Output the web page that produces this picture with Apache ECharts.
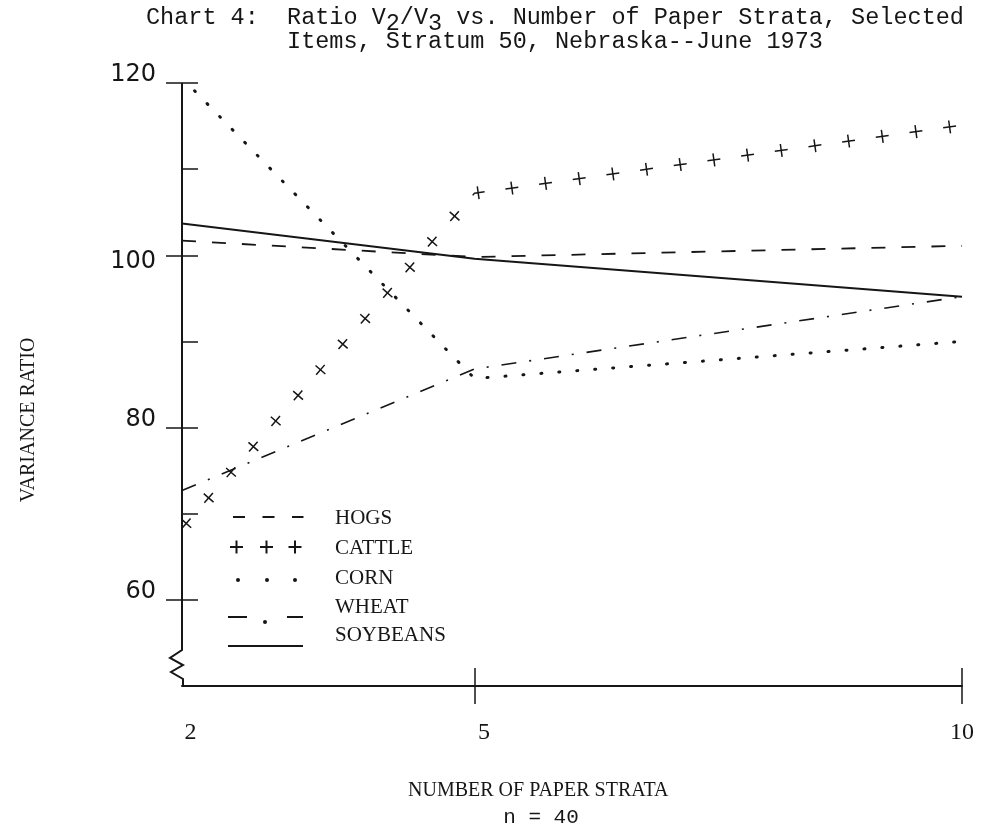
<!DOCTYPE html>
<html>
<head>
<meta charset="utf-8">
<title>Chart 4</title>
<script src="https://cdn.jsdelivr.net/npm/echarts@6/dist/echarts.min.js"></script>
<style>
html, body { margin: 0; padding: 0; background: #fff; }
#main { width: 987px; height: 837px; }
</style>
</head>
<body>
<div id="main"></div>
<script>
// values
var strata = [2, 5, 10];
var hogs = [101.7, 99.8, 101.1];
var cattle = [68.3, 107.2, 115.1];
var corn = [120.6, 85.7, 90.0];
var wheat = [72.7, 86.8, 95.2];
var soybeans = [103.7, 99.6, 95.2];

var xTicks = [5, 10];
var xLabels = [2, 5, 10];
var yLabels = [60, 80, 100, 120];
var yTicks = [60, 70, 80, 90, 100, 110, 120];
var legendNames = ['HOGS', 'CATTLE', 'CORN', 'WHEAT', 'SOYBEANS'];

var ink = '#161616';
var dom = document.getElementById('main');
var myChart = echarts.init(dom);

function pairs(ys) {
  return strata.map(function (x, i) { return [x, ys[i]]; });
}

function lineSeries(name, ys, style) {
  return {
    name: name,
    type: 'line',
    data: pairs(ys),
    symbol: 'none',
    silent: true,
    lineStyle: Object.assign({ color: ink, width: 1.6 }, style)
  };
}

var titleFont = { fontFamily: 'Liberation Mono', fontSize: 23.5, color: ink };

var option = {
  animation: false,
  backgroundColor: '#fff',
  title: {
    left: 146,
    top: 6,
    padding: 0,
    text: '{t|Chart 4:  Ratio V}{sub|2}{t|/V}{sub|3}{t| vs. Number of Paper Strata, Selected}\n{t|          Items, Stratum 50, Nebraska--June 1973}',
    textStyle: {
      fontFamily: 'Liberation Mono',
      fontSize: 23.5,
      fontWeight: 'normal',
      lineHeight: 24,
      color: ink,
      rich: {
        t: Object.assign({ lineHeight: 24, verticalAlign: 'top' }, titleFont),
        sub: Object.assign({ lineHeight: 24, verticalAlign: 'top', padding: [6, 0, 0, 0] }, titleFont)
      }
    }
  },
  grid: { left: 182, right: 25, top: 83, bottom: 151, outerBoundsMode: 'none' },
  xAxis: [
    {
      type: 'value', min: 2, max: 10,
      axisLine: { show: true, lineStyle: { color: ink, width: 2 } },
      axisTick: { show: true, inside: true, length: 18, customValues: xTicks, lineStyle: { color: ink, width: 1.5 } },
      axisLabel: {
        customValues: xLabels,
        margin: 35,
        fontFamily: 'Liberation Serif',
        fontSize: 24,
        lineHeight: 24,
        color: ink,
        formatter: function (v) {
          if (v === 2) return '{a|2}';
          if (v === 5) return '{b|5}';
          return '{c|' + v + '}';
        },
        rich: {
          a: { fontFamily: 'Liberation Serif', fontSize: 24, color: ink, padding: [0, 0, 0, 17] },
          b: { fontFamily: 'Liberation Serif', fontSize: 24, color: ink, padding: [0, 0, 0, 19] },
          c: { fontFamily: 'Liberation Serif', fontSize: 24, color: ink }
        }
      },
      splitLine: { show: false }
    },
    {
      type: 'value', min: 2, max: 10, position: 'bottom',
      axisLine: { show: false },
      axisTick: { show: true, inside: false, length: 18, customValues: xTicks, lineStyle: { color: ink, width: 1.5 } },
      axisLabel: { show: false },
      splitLine: { show: false }
    }
  ],
  yAxis: [
    {
      type: 'value', min: 50, max: 120,
      axisLine: { show: false },
      axisTick: { show: true, inside: true, length: 16, customValues: yTicks, lineStyle: { color: ink, width: 1.5 } },
      axisLabel: {
        customValues: yLabels,
        margin: 26,
        fontFamily: 'DejaVu Sans',
        fontSize: 24,
        color: ink,
        formatter: function (v) {
          return v === 100 ? '{dn|100}' : '{up|' + v + '}';
        },
        rich: {
          up: { fontFamily: 'DejaVu Sans', fontSize: 24, color: ink, padding: [0, 0, 16, 0] },
          dn: { fontFamily: 'DejaVu Sans', fontSize: 24, color: ink, padding: [12, 0, 0, 0] }
        }
      },
      splitLine: { show: false }
    },
    {
      type: 'value', min: 50, max: 120, position: 'left',
      axisLine: { show: false },
      axisTick: { show: true, inside: false, length: 16, customValues: yLabels, lineStyle: { color: ink, width: 1.5 } },
      axisLabel: { show: false },
      splitLine: { show: false }
    }
  ],
  series: [
    lineSeries('SOYBEANS', soybeans, { width: 2 }),
    lineSeries('HOGS', hogs, { type: [14, 16], width: 1.8 }),
    lineSeries('CORN', corn, { type: [1, 17], cap: 'round', width: 3 }),
    lineSeries('WHEAT', wheat, { type: [15, 13, 2, 13], width: 1.6 }),
    // cattle: short dash along the line plus a crossing bar -> "+ + +"
    lineSeries('CATTLE', cattle, { type: [13, 21], width: 1.5 }),
    lineSeries('CATTLE', cattle, { type: [1.5, 32.5], dashOffset: 28.25, width: 13 })
  ]
};

myChart.setOption(option);

// y axis line with the break near the bottom
var pTop = myChart.convertToPixel({ gridIndex: 0 }, [2, 120]);
var pBot = myChart.convertToPixel({ gridIndex: 0 }, [2, 50]);
var bx = pBot[0], by = pBot[1];

function seg(x1, y1, x2, y2, w, dash) {
  return {
    type: 'line', silent: true,
    shape: { x1: x1, y1: y1, x2: x2, y2: y2 },
    style: { stroke: ink, lineWidth: w || 2, lineDash: dash || null }
  };
}
function dot(cx, cy) {
  return { type: 'circle', silent: true, shape: { cx: cx, cy: cy, r: 2 }, style: { fill: ink } };
}
function label(text, x, y, font, align, rot) {
  return {
    type: 'text', silent: true, x: x, y: y, rotation: rot || 0,
    style: {
      text: text, font: font, fill: ink,
      align: align || 'left', verticalAlign: 'middle',
      textAlign: align || 'left', textVerticalAlign: 'middle'
    }
  };
}

var g = [];
g.push({
  type: 'polyline', silent: true,
  shape: { points: [[bx, pTop[1]], [bx, by - 36], [bx - 12, by - 28], [bx + 1, by - 21], [bx - 11, by - 14], [bx + 1, by - 7], [bx + 1, by]] },
  style: { stroke: ink, lineWidth: 2, fill: null }
});

// legend samples
var legY = [518, 548, 578, 607, 635];
g.push(seg(233, 517, 303.5, 517, 2, [12, 17.5]));
[236.5, 266.5, 295].forEach(function (cx) {
  g.push(seg(cx - 6.5, 547, cx + 6.5, 547, 2));
  g.push(seg(cx, 540.5, cx, 553.5, 2));
});
[238, 267, 295].forEach(function (cx) { g.push(dot(cx, 580)); });
g.push(seg(228, 617, 247, 617, 2));
g.push(dot(265, 622));
g.push(seg(287, 617, 303, 617, 2));
g.push(seg(228, 646, 303, 646, 2));
legendNames.forEach(function (n, i) {
  g.push(label(n, 335, legY[i], '21px "Liberation Serif"'));
});

// axis titles
g.push(label('NUMBER OF PAPER STRATA', 408, 791, '20px "Liberation Serif"'));
g.push(label('n = 40', 541, 817, '21px "Liberation Mono"', 'center'));
g.push(label('VARIANCE RATIO', 29, 420, '20px "Liberation Serif"', 'center', Math.PI / 2));

myChart.setOption({ graphic: g });
</script>
</body>
</html>
